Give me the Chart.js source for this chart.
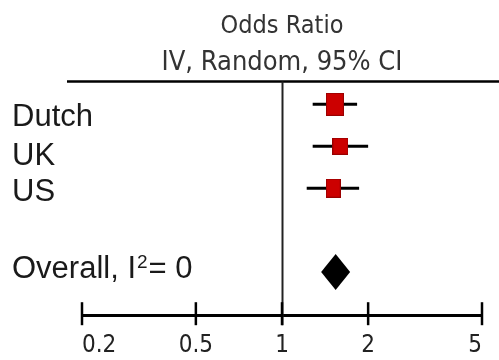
<!DOCTYPE html>
<html>
<head>
<meta charset="utf-8">
<script src="https://cdn.jsdelivr.net/npm/chart.js@4.4.1/dist/chart.umd.min.js"></script>
<style>
  html, body { margin: 0; padding: 0; background: #ffffff; }
  #wrap { width: 499px; height: 360px; }
</style>
</head>
<body>
<div id="wrap"><canvas id="forest" width="499" height="360"></canvas></div>
<script>
// Study-level odds ratios with 95% confidence intervals
const studies = ['Dutch', 'UK', 'US'];
const oddsRatio = [1.53, 1.60, 1.51];
const ciLower = [1.28, 1.28, 1.22];
const ciUpper = [1.83, 2.00, 1.86];

// Pooled random-effects estimate (label pieces: text, superscript, text)
const overallLabel = ['Overall, I', '2', '= 0'];
const overallOR = [1.54];
const overallLower = [1.37];
const overallUpper = [1.73];

// Axis ticks (log scale)
const tickValues = [0.2, 0.5, 1, 2, 5];

// Layout / styling
const ROW_OVERALL = 4;
const NARROW = "'Liberation Sans Narrow', 'DejaVu Sans Condensed', 'Arial Narrow', sans-serif";
const REGULAR = "'Liberation Sans', Arial, sans-serif";
const markerBox = [[18, 23], [16, 17], [15, 19]];
const labelShift = [13, 10, 4.5, -3];

function makeBox(w, h) {
  const c = document.createElement('canvas');
  c.width = w; c.height = h;
  const g = c.getContext('2d');
  g.fillStyle = '#cc0000';
  g.fillRect(0, 0, w, h);
  g.strokeStyle = '#9a0000';
  g.lineWidth = 1;
  g.strokeRect(0.5, 0.5, w - 1, h - 1);
  return c;
}
const markerImgs = markerBox.map(b => makeBox(b[0], b[1]));

const whiskerSets = studies.map((s, i) => ({
  type: 'line',
  label: s + ' CI',
  data: [{ x: ciLower[i], y: i }, { x: ciUpper[i], y: i }],
  borderColor: '#000000',
  borderWidth: 3,
  pointRadius: 0,
  showLine: true,
  order: 2
}));

const pointSet = {
  type: 'scatter',
  label: 'Odds ratio',
  data: studies.map((s, i) => ({ x: oddsRatio[i], y: i })),
  pointStyle: markerImgs,
  pointRadius: 10,
  order: 1
};

const forestDecor = {
  id: 'forestDecor',
  beforeDatasetsDraw(chart) {
    const { ctx, chartArea, scales } = chart;
    const x = scales.x;
    ctx.save();
    // heading rule
    ctx.strokeStyle = '#000000';
    ctx.lineWidth = 2.5;
    ctx.beginPath();
    ctx.moveTo(67, chartArea.top);
    ctx.lineTo(chart.width, chartArea.top);
    ctx.stroke();
    // line of no effect
    const x1 = Math.round(x.getPixelForValue(1)) + 0.5;
    ctx.strokeStyle = '#222222';
    ctx.lineWidth = 2;
    ctx.beginPath();
    ctx.moveTo(x1, chartArea.top);
    ctx.lineTo(x1, chartArea.bottom + 10);
    ctx.stroke();
    ctx.restore();
  },
  afterDraw(chart) {
    const { ctx, chartArea, scales } = chart;
    const x = scales.x, y = scales.y;
    ctx.save();
    // tick marks crossing the axis
    ctx.strokeStyle = '#000000';
    ctx.lineWidth = 2.5;
    tickValues.forEach(v => {
      const px = x.getPixelForValue(v);
      ctx.beginPath();
      ctx.moveTo(px, chartArea.bottom - 13);
      ctx.lineTo(px, chartArea.bottom + 10);
      ctx.stroke();
    });
    // pooled diamond
    const cy = y.getPixelForValue(ROW_OVERALL);
    const half = 18;
    ctx.fillStyle = '#000000';
    ctx.beginPath();
    ctx.moveTo(x.getPixelForValue(overallLower[0]), cy);
    ctx.lineTo(x.getPixelForValue(overallOR[0]), cy - half);
    ctx.lineTo(x.getPixelForValue(overallUpper[0]), cy);
    ctx.lineTo(x.getPixelForValue(overallOR[0]), cy + half);
    ctx.closePath();
    ctx.fill();
    // row labels
    ctx.fillStyle = '#1a1a1a';
    ctx.textAlign = 'left';
    ctx.textBaseline = 'middle';
    const mainFont = '31px ' + REGULAR;
    const supFont = '19px ' + REGULAR;
    ctx.font = mainFont;
    studies.forEach((s, i) => {
      ctx.fillText(s, 12, y.getPixelForValue(i) + labelShift[i]);
    });
    // pooled label with superscript
    const oy = y.getPixelForValue(ROW_OVERALL) + labelShift[3];
    let ox = 12;
    ctx.font = mainFont;
    ctx.fillText(overallLabel[0], ox, oy);
    ox += ctx.measureText(overallLabel[0]).width + 1;
    ctx.font = supFont;
    ctx.fillText(overallLabel[1], ox, oy - 6);
    ox += ctx.measureText(overallLabel[1]).width + 1;
    ctx.font = mainFont;
    ctx.fillText(overallLabel[2], ox, oy);
    ctx.restore();
  }
};

new Chart(document.getElementById('forest'), {
  type: 'scatter',
  data: { datasets: whiskerSets.concat([pointSet]) },
  plugins: [forestDecor],
  options: {
    responsive: false,
    devicePixelRatio: 1,
    animation: false,
    layout: { padding: { left: 82, right: 17, top: 4, bottom: 0 } },
    plugins: {
      legend: { display: false },
      tooltip: { enabled: false },
      title: {
        display: true,
        text: 'Odds Ratio',
        color: '#333333',
        font: { family: NARROW, size: 25, weight: 'normal' },
        padding: { top: 7, bottom: 6 }
      },
      subtitle: {
        display: true,
        text: 'IV, Random, 95% CI',
        color: '#333333',
        font: { family: NARROW, size: 27, weight: 'normal' },
        padding: { top: 0, bottom: 2 }
      }
    },
    scales: {
      x: {
        type: 'logarithmic',
        min: 0.2,
        max: 5,
        afterBuildTicks: s => { s.ticks = tickValues.map(v => ({ value: v })); },
        grid: { display: false, drawTicks: true, tickLength: 16 },
        border: { display: true, color: '#000000', width: 3 },
        ticks: {
          callback: v => String(v),
          align: 'inner',
          autoSkip: false,
          maxRotation: 0,
          padding: 0,
          color: '#222222',
          font: { family: NARROW, size: 24 }
        }
      },
      y: {
        type: 'linear',
        reverse: true,
        min: -0.545,
        max: 5.03,
        display: false
      }
    }
  }
});
</script>
</body>
</html>
